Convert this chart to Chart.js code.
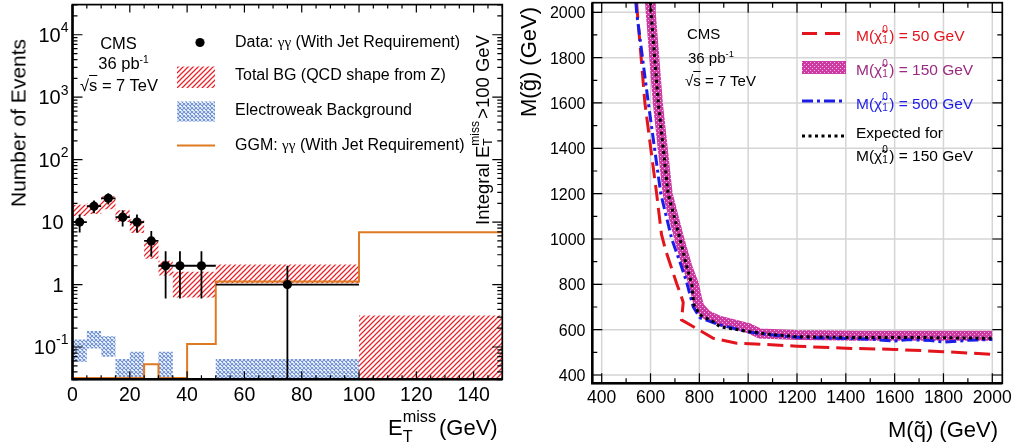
<!DOCTYPE html>
<html><head><meta charset="utf-8">
<script src="https://cdn.jsdelivr.net/npm/chart.js@4.4.1/dist/chart.umd.min.js"></script>
<style>
html,body{margin:0;padding:0;background:#fff;}
#wrap{position:relative;width:1014px;height:446px;overflow:hidden;font-family:"Liberation Sans",Arial,Helvetica,sans-serif;color:#000;}
#wrap canvas{position:absolute;left:0;top:0;}
.t{position:absolute;white-space:nowrap;line-height:1;}
.rot{transform:translate(-50%,-50%) rotate(-90deg);}
.ctr{transform:translate(-50%,0);}
.sup{font-size:0.62em;position:relative;top:-0.55em;}
.stk{display:inline-block;position:relative;height:1em;vertical-align:baseline;}
.stk span{position:absolute;left:0;font-size:0.65em;line-height:1;}
.stk .hi{top:-0.05em;}
.stk .lo{top:1.0em;}
.g{font-family:"Liberation Serif","DejaVu Serif",serif;font-size:0.95em;}
.ov{text-decoration:overline;}
</style></head>
<body><div id="wrap">
<canvas id="cL" width="1014" height="446"></canvas>
<canvas id="cR" width="1014" height="446"></canvas>

<!-- left panel texts -->
<div class="t rot" style="left:17.5px;top:123px;font-size:21px">Number of Events</div>
<div class="t ctr" style="left:118.5px;top:34.5px;font-size:16.5px">CMS</div>
<div class="t ctr" style="left:123.5px;top:54.5px;font-size:16.5px">36 pb<span class="sup">-1</span></div>
<div class="t ctr" style="left:119px;top:77px;font-size:16.5px">√<span class="ov">s</span> = 7 TeV</div>
<div class="t" style="left:235px;top:34px;font-size:16px">Data: <span class="g">γγ</span> (With Jet Requirement)</div>
<div class="t" style="left:235px;top:67px;font-size:16px">Total BG (QCD shape from Z)</div>
<div class="t" style="left:235px;top:102px;font-size:16px">Electroweak Background</div>
<div class="t" style="left:235px;top:137px;font-size:16px">GGM: <span class="g">γγ</span> (With Jet Requirement)</div>
<div class="t rot" style="left:480.5px;top:130px;font-size:18.5px">Integral E<span class="stk" style="width:1.45em"><span class="hi">miss</span><span class="lo">T</span></span>&gt;100 GeV</div>
<div class="t" style="left:388px;top:413px;font-size:22px">E<span class="stk" style="width:1.65em"><span style="font-size:0.74em;top:-0.29em">miss</span><span style="font-size:0.74em;top:0.94em">T</span></span>(GeV)</div>

<!-- right panel texts -->
<div class="t rot" style="left:529px;top:62px;font-size:22px">M(g&#771;) (GeV)</div>
<div class="t" style="left:888px;top:419px;font-size:22px">M(q&#771;) (GeV)</div>
<div class="t" style="left:687px;top:25.5px;font-size:15px">CMS</div>
<div class="t" style="left:688px;top:49.5px;font-size:15px">36 pb<span class="sup">-1</span></div>
<div class="t" style="left:685px;top:72.5px;font-size:15px">√<span class="ov">s</span> = 7 TeV</div>
<div class="t" style="left:856px;top:25px;font-size:15.5px;color:#e3141c">M(χ&#771;<span class="stk" style="width:0.45em"><span class="hi">0</span><span class="lo">1</span></span>) = 50 GeV</div>
<div class="t" style="left:856px;top:59px;font-size:15.5px;color:#9c2a80">M(χ&#771;<span class="stk" style="width:0.45em"><span class="hi">0</span><span class="lo">1</span></span>) = 150 GeV</div>
<div class="t" style="left:856px;top:92.5px;font-size:15.5px;color:#1c1ce8">M(χ&#771;<span class="stk" style="width:0.45em"><span class="hi">0</span><span class="lo">1</span></span>) = 500 GeV</div>
<div class="t" style="left:856px;top:125px;font-size:15.5px">Expected for</div>
<div class="t" style="left:856px;top:145px;font-size:15.5px">M(χ&#771;<span class="stk" style="width:0.45em"><span class="hi">0</span><span class="lo">1</span></span>) = 150 GeV</div>
</div>
<script>
const W = 1014, H = 446;
// ---------------- Left panel data ----------------
const bgEdges = [0,5,10,15,20,25,30,35,40,50,100,150];
const bgLow   = [12.5,13.5,16,10,6.7,2.6,1.4,0.62,0.62,1.05,0.001];
const bgHigh  = [19,20,26,15.5,11,4.8,2.4,1.6,1.6,2.1,0.32];
const ewEdges = [0,5,10,15,20,25,30,35,40,50,100];
const ewLow   = [0.058,0.095,0.07,0.001,0.001,0.001,0.001,0.001,0.001,0.001];
const ewHigh  = [0.132,0.18,0.149,0.064,0.084,0.001,0.084,0.001,0.001,0.064];
const ggmEdges = [0,25,30,40,50,100,150];
const ggmVals  = [0.032,0.053,0.032,0.112,1.12,6.9];
const dataX      = [2.5,7.5,12.5,17.5,22.5,27.5,32.5,37.5,45,75];
const dataY      = [10,18,24,12,10,5,2,2,2,1];
const dataXErr   = [2.5,2.5,2.5,2.5,2.5,2.5,2.5,2.5,5,25];
const dataYErrUp = [3.2,4.2,4.9,3.5,3.2,2.2,1.4,1.4,1.4,1.0];
const dataYErrDn = [3.2,4.2,4.9,3.5,3.2,2.2,1.4,1.4,1.4,0.999];
const xTicksL   = [0,20,40,60,80,100,120,140];
const xLabelsL  = ['0','20','40','60','80','100','120','140'];
const yTicksL   = [0.1,1,10,100,1000,10000];
const yBaseL    = ['10','1','10','10','10','10'];
const yExpL     = ['-1','','','2','3','4'];
// ---------------- Right panel data ----------------
const redSq  = [543,546,577,625,645,662,707,722,734,727,857,953,1050,1200,1400,1600,1800,2000];
const redGl  = [2045,2000,1600,1200,1020,950,804,760,720,643,562,540,536,527,518,513,503,491];
const blueSq = [540,543,591,642,687,720,748,775,803,880,1000,1100,1200,1400,1500,1600,1650,1750,1800,1900,2000];
const blueGl = [2045,2000,1600,1200,1000,900,810,700,652,622,590,576,566,561,558,550,556,552,545,553,557];
const obsSq  = [598,601,630,670,718,750,778,790,800,830,880,1000,1048,1200,1458,2000];
const obsGl  = [2045,2000,1600,1200,1000,880,800,740,700,665,640,607,583,577,573,573];
const expSq  = [600,602,632,672,721,748,769,778,803,857,885,1000,1100,1200,1458,1731,2000];
const expGl  = [2045,2000,1600,1200,1000,880,800,709,665,635,613,592,578,569,565,565,562];
const ticksR  = [400,600,800,1000,1200,1400,1600,1800,2000];
const labelsR = ['400','600','800','1000','1200','1400','1600','1800','2000'];

const FONT = '"Liberation Sans", Arial, Helvetica, sans-serif';
const ctxL = document.getElementById('cL').getContext('2d');
const ctxR = document.getElementById('cR').getContext('2d');

function tile(ctx, size, draw){
  const c = document.createElement('canvas'); c.width = size; c.height = size;
  const g = c.getContext('2d'); draw(g, size);
  return ctx.createPattern(c, 'repeat');
}
const redPat = tile(ctxL, 5, (g,s)=>{ g.strokeStyle='#e6242b'; g.lineWidth=1.25; g.beginPath();
  g.moveTo(0,s); g.lineTo(s,0); g.moveTo(-1,1); g.lineTo(1,-1); g.moveTo(s-1,s+1); g.lineTo(s+1,s-1); g.stroke(); });
const bluePat = tile(ctxL, 4, (g,s)=>{ g.strokeStyle='#6e91d5'; g.lineWidth=1.1; g.beginPath();
  g.moveTo(0,0); g.lineTo(s,s); g.moveTo(0,s); g.lineTo(s,0); g.stroke(); });
const magPat = tile(ctxR, 4, (g,s)=>{ g.fillStyle='#cc3aa2'; g.fillRect(0,0,s,s); g.fillStyle='#f2bfe4';
  g.fillRect(0,0,1,1); g.fillRect(2,2,1,1); });

function stepPts(edges, vals){
  const p = vals.map((v,i)=>({x:edges[i], y:v}));
  p.push({x:edges[edges.length-1], y:vals[vals.length-1]});
  return p;
}
function xyPts(xs, ys){ return xs.map((x,i)=>({x:x, y:ys[i]})); }

function range(a,b,s){ const r=[]; for(let v=a; v<=b+1e-9; v+=s) r.push(v); return r; }
const logMinor = [];
[0.01,0.1,1,10,100,1000,10000].forEach(d=>{ for(let m=2;m<=9;m++) logMinor.push(m*d); });

function axesPlugin(cfg){
  return {
    id: 'axes_'+cfg.id,
    beforeDatasetsDraw(chart){
      if(!cfg.gridX) return;
      const {ctx, chartArea:a} = chart; const sx=chart.scales.x, sy=chart.scales.y;
      ctx.save(); ctx.strokeStyle='#d5d5d5'; ctx.lineWidth=1.5; ctx.beginPath();
      cfg.gridX.forEach(v=>{ const p=sx.getPixelForValue(v); ctx.moveTo(p,a.top); ctx.lineTo(p,a.bottom); });
      cfg.gridY.forEach(v=>{ const p=sy.getPixelForValue(v); ctx.moveTo(a.left,p); ctx.lineTo(a.right,p); });
      ctx.stroke(); ctx.restore();
    },
    afterDatasetsDraw(chart){
      const {ctx, chartArea:a} = chart; const sx=chart.scales.x, sy=chart.scales.y;
      ctx.save(); ctx.strokeStyle='#000'; ctx.lineWidth=1.2; ctx.beginPath();
      const tx=(vals,len)=>vals.forEach(v=>{ const p=sx.getPixelForValue(v); if(p<a.left-0.5||p>a.right+0.5) return;
        ctx.moveTo(p,a.bottom); ctx.lineTo(p,a.bottom-len); ctx.moveTo(p,a.top); ctx.lineTo(p,a.top+len); });
      const ty=(vals,len)=>vals.forEach(v=>{ const p=sy.getPixelForValue(v); if(p<a.top-0.5||p>a.bottom+0.5) return;
        ctx.moveTo(a.left,p); ctx.lineTo(a.left+len,p); ctx.moveTo(a.right,p); ctx.lineTo(a.right-len,p); });
      tx(cfg.xMinor,cfg.xMinLen); tx(cfg.xMajor,cfg.xMajLen); ty(cfg.yMinor,cfg.yMinLen); ty(cfg.yMajor,cfg.yMajLen);
      ctx.stroke();
      ctx.lineWidth=1.7; ctx.strokeRect(a.left,a.top,a.right-a.left,a.bottom-a.top);
      ctx.lineWidth=2.5; ctx.beginPath(); ctx.moveTo(a.left,a.top); ctx.lineTo(a.left,a.bottom); ctx.lineTo(a.right,a.bottom); ctx.stroke();
      ctx.fillStyle='#000'; ctx.textBaseline='middle';
      ctx.font = cfg.xFont; ctx.textAlign='center';
      cfg.xMajor.forEach((v,i)=>{ ctx.fillText(cfg.xLabels[i], sx.getPixelForValue(v), cfg.xLabelY); });
      cfg.yMajor.forEach((v,i)=>{
        const p = sy.getPixelForValue(v);
        const e = cfg.yExp ? cfg.yExp[i] : '';
        if(e){
          ctx.font = cfg.yExpFont; const w = ctx.measureText(e).width;
          ctx.textAlign='left'; ctx.fillText(e, cfg.yExpRight - w, p - 6.5);
          ctx.font = cfg.yFont; ctx.textAlign='right'; ctx.fillText(cfg.yLabels[i], cfg.yExpRight - w, p + 1.5);
        } else {
          ctx.font = cfg.yFont; ctx.textAlign='right'; ctx.fillText(cfg.yLabels[i], cfg.yLabelRight, p + 1.5);
        }
      });
      ctx.restore();
    },
    afterDraw(chart){ if(cfg.legend) cfg.legend(chart.ctx); }
  };
}

function legendLeft(ctx){
  ctx.save();
  ctx.fillStyle='#000'; ctx.beginPath(); ctx.arc(200,42.5,4.6,0,Math.PI*2); ctx.fill();
  ctx.fillStyle=redPat; ctx.fillRect(177,66.5,38,21.5);
  ctx.fillStyle=bluePat; ctx.fillRect(177,101.5,38,20);
  ctx.strokeStyle='#e07a22'; ctx.lineWidth=2; ctx.beginPath(); ctx.moveTo(177,145.5); ctx.lineTo(215,145.5); ctx.stroke();
  ctx.restore();
}
function legendRight(ctx){
  ctx.save(); ctx.lineWidth=3;
  ctx.strokeStyle='#e3141c'; ctx.setLineDash([15,8]); ctx.beginPath(); ctx.moveTo(802,33.5); ctx.lineTo(846,33.5); ctx.stroke();
  ctx.fillStyle=magPat; ctx.fillRect(802,61,44,13);
  ctx.strokeStyle='#1c1ce8'; ctx.setLineDash([11,4,3,4]); ctx.beginPath(); ctx.moveTo(802,101); ctx.lineTo(846,101); ctx.stroke();
  ctx.strokeStyle='#000'; ctx.setLineDash([3,3.5]); ctx.beginPath(); ctx.moveTo(802,136); ctx.lineTo(846,136); ctx.stroke();
  ctx.restore();
}

const errV = [], errH = [];
dataX.forEach((x,i)=>{
  errV.push({x:x, y:dataY[i]+dataYErrUp[i]}, {x:x, y:dataY[i]-dataYErrDn[i]}, {x:x, y:null});
  errH.push({x:x-dataXErr[i], y:dataY[i]}, {x:x+dataXErr[i], y:dataY[i]}, {x:x, y:null});
});

const band = (data, extra)=>Object.assign({data:data, showLine:true, stepped:true, pointRadius:0, borderWidth:0, fill:false}, extra);

new Chart(ctxL, {
  type:'scatter',
  data:{datasets:[
    band(stepPts(bgEdges,bgHigh), {fill:'+1', backgroundColor:redPat, order:10}),
    band(stepPts(bgEdges,bgLow), {order:10}),
    band(stepPts(ewEdges,ewHigh), {fill:'+1', backgroundColor:bluePat, order:9}),
    band(stepPts(ewEdges,ewLow), {order:9}),
    {data:stepPts(ggmEdges,ggmVals), showLine:true, stepped:true, pointRadius:0, borderColor:'#e07a22', borderWidth:2, fill:false, order:3},
    {data:errH, showLine:true, pointRadius:0, borderColor:'#000', borderWidth:1.8, fill:false, spanGaps:false, order:2},
    {data:errV, showLine:true, pointRadius:0, borderColor:'#000', borderWidth:1.8, fill:false, spanGaps:false, order:1},
    {data:xyPts(dataX,dataY), showLine:false, pointRadius:4.6, pointBackgroundColor:'#000', pointBorderWidth:0, order:0}
  ]},
  options:{
    responsive:false, animation:false, events:[],
    layout:{padding:{left:72.5, right:W-502.3, top:2, bottom:H-379.3}},
    scales:{ x:{type:'linear', min:0, max:150, display:false},
             y:{type:'logarithmic', min:0.0304, max:30400, display:false} },
    plugins:{legend:{display:false}, tooltip:{enabled:false}}
  },
  plugins:[axesPlugin({id:'L', xMajor:xTicksL, xLabels:xLabelsL, xMinor:range(0,150,5), xMajLen:8, xMinLen:4,
    yMajor:yTicksL, yLabels:yBaseL, yExp:yExpL, yMinor:logMinor, yMajLen:10, yMinLen:5,
    xFont:'19.5px '+FONT, xLabelY:395.5, yFont:'20px '+FONT, yExpFont:'14px '+FONT, yExpRight:68.5, yLabelRight:63.5,
    legend:legendLeft})]
});

const curve = (xs, ys, extra)=>Object.assign({data:xyPts(xs,ys), showLine:true, pointRadius:0, fill:false, clip:0, tension:0}, extra);
new Chart(ctxR, {
  type:'scatter',
  data:{datasets:[
    curve(expSq, expGl, {borderColor:'#000', borderWidth:3, borderDash:[3,3.5], order:1}),
    curve(blueSq, blueGl, {borderColor:'#1c1ce8', borderWidth:3, borderDash:[11,4,3,4], order:2}),
    curve(redSq, redGl, {borderColor:'#e3141c', borderWidth:3, borderDash:[16,7], order:3}),
    curve(obsSq, obsGl, {borderColor:magPat, borderWidth:10, borderJoinStyle:'miter', order:4})
  ]},
  options:{
    responsive:false, animation:false, events:[],
    layout:{padding:{left:592.3, right:W-1002.3, top:2.7, bottom:H-383.3}},
    scales:{ x:{type:'linear', min:361.5, max:2041, display:false},
             y:{type:'linear', min:363.4, max:2042.3, display:false} },
    plugins:{legend:{display:false}, tooltip:{enabled:false}}
  },
  plugins:[axesPlugin({id:'R', gridX:ticksR, gridY:ticksR, xMajor:ticksR, xLabels:labelsR, xMinor:range(400,2000,100), xMajLen:10, xMinLen:5,
    yMajor:ticksR, yLabels:labelsR, yMinor:range(400,2000,100), yMajLen:10, yMinLen:5,
    xFont:'17.5px '+FONT, xLabelY:398.5, yFont:'16px '+FONT, yLabelRight:585.5,
    legend:legendRight})]
});
</script>
</body></html>
